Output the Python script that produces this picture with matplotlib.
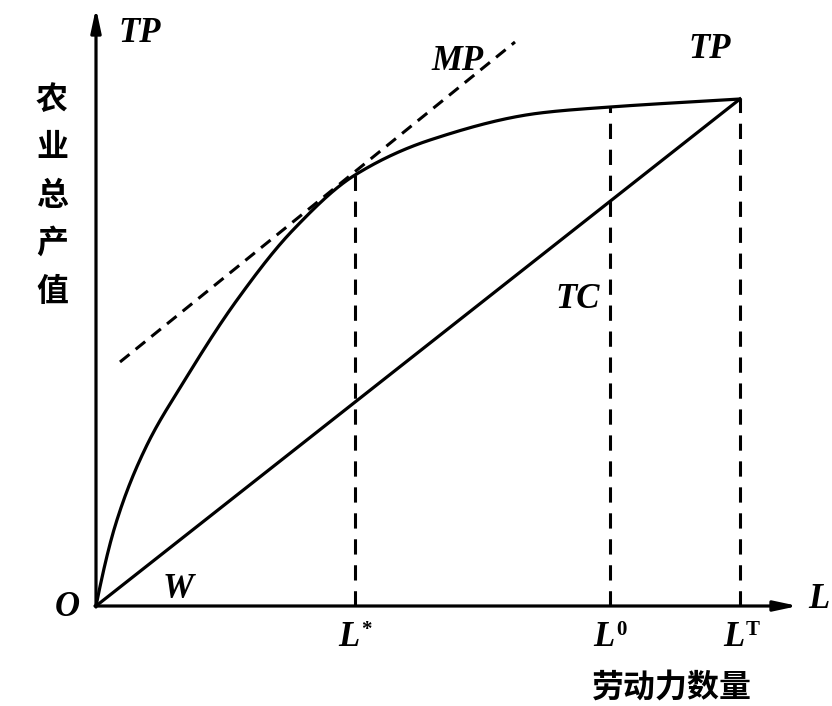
import matplotlib
matplotlib.use('Agg')
import matplotlib.pyplot as plt
import numpy as np

# TP curve (x = labour, y = output)
tp_x = [0, 20, 50, 87, 141, 197, 259, 334, 444, 514, 644]
tp_y = [0, 83, 159, 223, 306, 376, 431, 466, 493, 499, 507]

# TC line from origin to end of TP
tc_x = [0, 644]
tc_y = [0, 507]

# MP tangent (dashed)
mp_x = [24, 419]
mp_y = [244, 564]

# vertical marks on the L axis
marks_x = [259, 514, 644]
marks_y = [431, 499, 507]
mark_sups = ['*', '0', 'T']


def pchip(x, y, xs):
    # monotone cubic through the read points
    x = np.asarray(x, float)
    y = np.asarray(y, float)
    h = np.diff(x)
    d = np.diff(y) / h
    m = np.zeros_like(y)
    for i in range(1, len(x) - 1):
        if d[i - 1] * d[i] > 0:
            w1 = 2 * h[i] + h[i - 1]
            w2 = h[i] + 2 * h[i - 1]
            m[i] = (w1 + w2) / (w1 / d[i - 1] + w2 / d[i])
    m[0] = d[0] * 1.2
    m[-1] = d[-1]
    idx = np.clip(np.searchsorted(x, xs) - 1, 0, len(x) - 2)
    t = (xs - x[idx]) / h[idx]
    h00 = 2 * t**3 - 3 * t**2 + 1
    h10 = t**3 - 2 * t**2 + t
    h01 = -2 * t**3 + 3 * t**2
    h11 = t**3 - t**2
    return h00 * y[idx] + h10 * h[idx] * m[idx] + h01 * y[idx + 1] + h11 * h[idx] * m[idx + 1]


fig = plt.figure(figsize=(8.32, 7.06), dpi=100)
ax = fig.add_axes([0, 0, 1, 1])
ax.set_xlim(-96, 736)
ax.set_ylim(-100, 606)
ax.axis('off')

lw = 2.3
arrow = dict(arrowstyle='-|>,head_length=1.4,head_width=0.3', lw=lw, color='black',
             shrinkA=0, shrinkB=0)
ax.annotate('', xy=(702, 0), xytext=(-1, 0), arrowprops=arrow)
ax.annotate('', xy=(0, 598), xytext=(0, -1), arrowprops=arrow)

xs = np.linspace(0, 644, 800)
ax.plot(xs, pchip(tp_x, tp_y, xs), color='black', lw=lw, solid_capstyle='round')
ax.plot(tc_x, tc_y, color='black', lw=lw)
ax.plot(mp_x, mp_y, color='black', lw=2.2, ls=(0, (4, 2.6)))

for mx, my in zip(marks_x, marks_y):
    ax.plot([mx, mx], [0, my], color='black', lw=2.2, ls=(0, (5, 3.5)))

serif = dict(family='Liberation Serif', style='italic', weight='bold', fontsize=25)
ax.text(44, 573, 'TP', ha='center', va='center', **serif)
ax.text(614, 557, 'TP', ha='center', va='center', **serif)
ax.text(362, 544, 'MP', ha='center', va='center', **serif)
ax.text(482, 306, 'TC', ha='center', va='center', **serif)
ax.text(82, 16, 'W', ha='center', va='center', **serif)
ax.text(-29, -1, 'O', ha='center', va='center', **serif)
ax.text(723, 6, 'L', ha='center', va='center', **serif)

for mx, sup in zip(marks_x, mark_sups):
    ax.text(mx - 6, -32, 'L', ha='center', va='center', **serif)
    ax.text(mx + 6, -24, sup, ha='left', va='center', fontsize=15,
            family='Liberation Serif', weight='bold')

cjk = dict(family=['Noto Sans CJK SC', 'DejaVu Sans'], weight='heavy', fontsize=23)
ax.text(576, -82, '劳动力数量', ha='center', va='center', **cjk)
for i, ch in enumerate('农业总产值'):
    ax.text(-44, 506 - i * 48, ch, ha='center', va='center', **cjk)

fig.savefig('out.png', dpi=100)
